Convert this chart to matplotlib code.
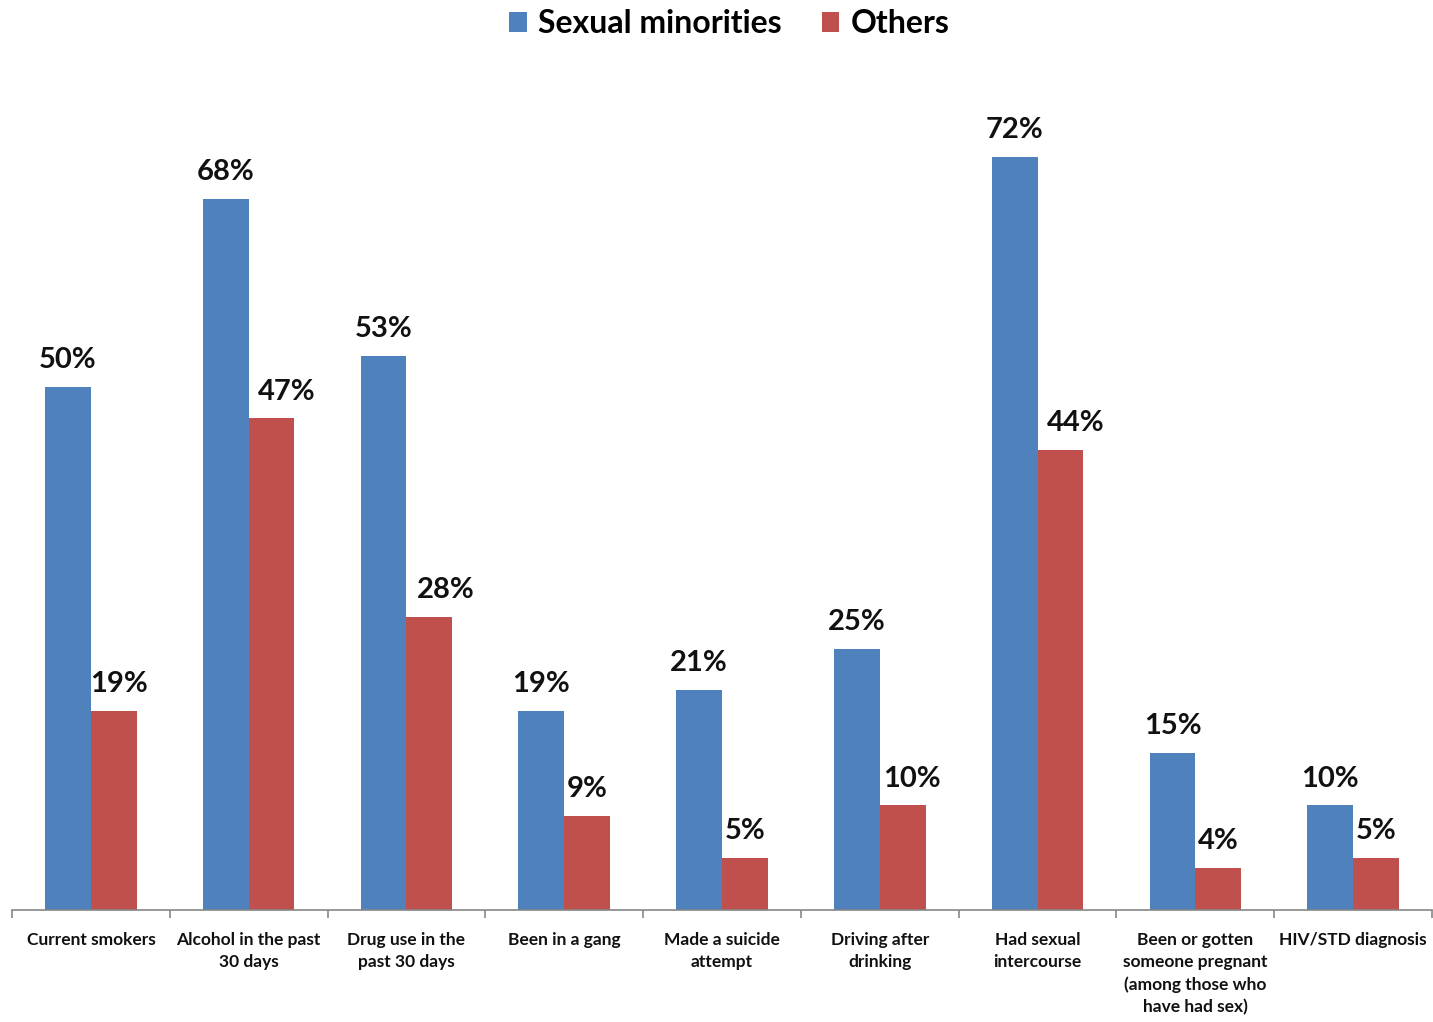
import matplotlib
matplotlib.use("Agg")
import matplotlib.pyplot as plt
import numpy as np

categories = ["Current smokers", "Alcohol in the past\n30 days", "Drug use in the\npast 30 days",
              "Been in a gang", "Made a suicide\nattempt", "Driving after\ndrinking",
              "Had sexual\nintercourse", "Been or gotten\nsomeone pregnant\n(among those who\nhave had sex)",
              "HIV/STD diagnosis"]
sexual_minorities = [50, 68, 53, 19, 21, 25, 72, 15, 10]
others = [19, 47, 28, 9, 5, 10, 44, 4, 5]
series_names = ["Sexual minorities", "Others"]

plt.rcParams['font.family'] = ['Lato', 'DejaVu Sans']

W, H = 1433, 1022
fig = plt.figure(figsize=(W/100, H/100), dpi=100)
left, right, base = 12, 1432, 910
ymax = 80
px_per = (910 - 157) / 72.0
top = base - ymax * px_per
ax = fig.add_axes([left/W, 1 - base/H, (right-left)/W, (base-top)/H])

x = np.arange(len(categories))
bw = 0.29
b1 = ax.bar(x - bw/2, sexual_minorities, bw, color="#4F81BD", label=series_names[0])
b2 = ax.bar(x + bw/2, others, bw, color="#C0504D", label=series_names[1])

# horizontal nudges (points) of the red labels, as placed in the original
red_dx = [4, 11, 12, 0, 0, 7, 11, 0, 0]
for bars, vals, dxs in ((b1, sexual_minorities, [0]*9), (b2, others, red_dx)):
    for b, v, dx in zip(bars, vals, dxs):
        ax.annotate(f"{v}%", (b.get_x() + b.get_width()/2, v), xytext=(dx, 10),
                    textcoords="offset points", ha="center", va="bottom",
                    fontsize=21, fontweight="bold", color="#111111")

ax.set_xlim(-0.5, len(categories) - 0.5)
ax.set_ylim(0, ymax)
for s in ("top", "right", "left"):
    ax.spines[s].set_visible(False)
ax.spines["bottom"].set_color("#868686")
ax.spines["bottom"].set_linewidth(1.2)
ax.set_yticks([])
ax.set_xticks(np.arange(-0.5, len(categories)), minor=False)
ax.set_xticklabels([])
ax.tick_params(axis="x", which="major", length=6, color="#868686", width=1.2)
ax.set_xticks(x, minor=True)
ax.set_xticklabels(categories, minor=True, fontsize=12.5, fontweight="bold", color="#111111",
                   linespacing=1.45, va="top")
ax.tick_params(axis="x", which="minor", length=0, pad=16)

leg = fig.legend(handles=[b1, b2], labels=series_names, loc="upper center",
                 bbox_to_anchor=(0.509, 1.019), ncol=2, frameon=False,
                 prop={"size": 23, "weight": "bold"}, handlelength=0.55, handleheight=0.55,
                 handletextpad=0.35, columnspacing=1.25)

fig.savefig("out.png", dpi=100, facecolor="white")
